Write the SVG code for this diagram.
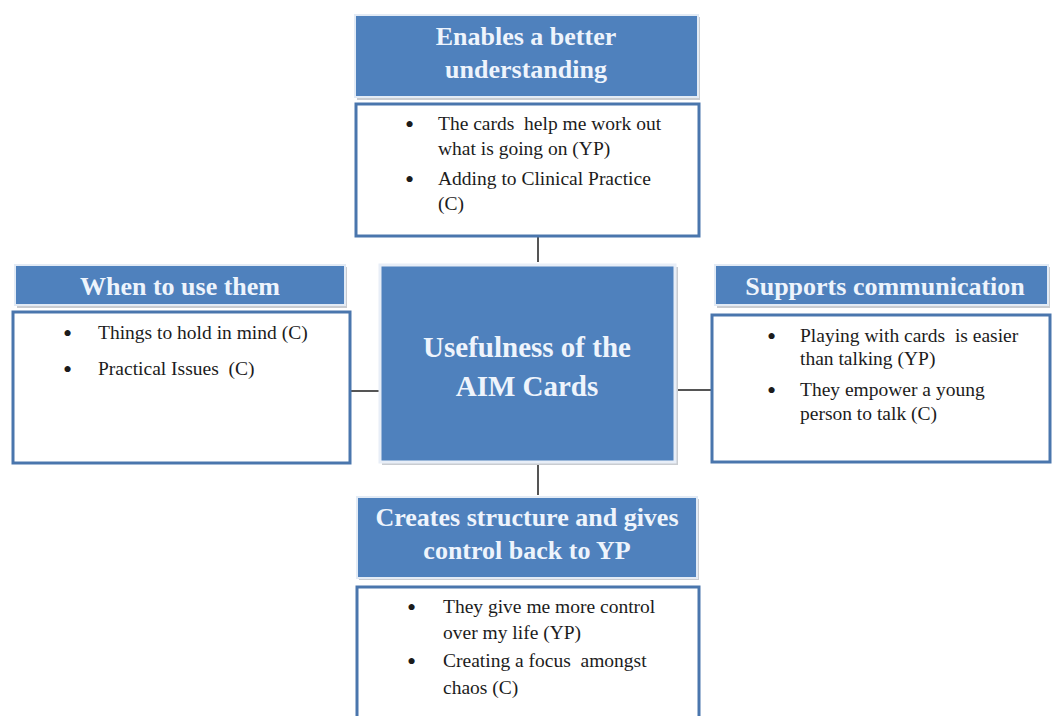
<svg xmlns="http://www.w3.org/2000/svg" width="1052" height="716" viewBox="0 0 1052 716">
<style>
.hdr{fill:#4f81bd;stroke:#e3ebf5;stroke-width:2}
.shd{fill:#c9ccd1}
.body{fill:#ffffff;stroke:#4a76ad;stroke-width:3}
.ht{font-family:"Liberation Serif",serif;font-weight:bold;font-size:26px;fill:#eef4fc;text-anchor:middle}
.ct{font-family:"Liberation Serif",serif;font-weight:bold;font-size:29px;fill:#eef4fc;text-anchor:middle}
.bt{font-family:"Liberation Serif",serif;font-size:19.5px;fill:#1c1c1c;white-space:pre}
.bu{font-family:"Liberation Serif",serif;font-size:26px;fill:#1c1c1c}
.conn{stroke:#555555;stroke-width:2;fill:none}
</style>
<rect width="1052" height="716" fill="#ffffff"/>
<g id="connectors">
<line class="conn" x1="538" y1="237" x2="538" y2="262"/>
<line class="conn" x1="538" y1="463" x2="538" y2="495"/>
<line class="conn" x1="350" y1="391" x2="379" y2="391"/>
<line class="conn" x1="676" y1="390" x2="712" y2="390"/>
</g>
<g id="center">
<rect class="shd" x="382" y="267" width="296" height="198"/>
<rect x="380" y="265" width="295" height="197" fill="#4f81bd" stroke="#e8eef7" stroke-width="3"/>
<text class="ct" x="527" y="357">Usefulness of the</text>
<text class="ct" x="527" y="396">AIM Cards</text>
</g>
<g id="top">
<rect class="body" x="356" y="104" width="343" height="132"/>
<rect class="shd" x="357" y="17" width="343" height="83"/>
<rect class="hdr" x="355" y="15" width="343" height="82"/>
<text class="ht" x="526" y="45">Enables a better</text>
<text class="ht" x="526" y="78">understanding</text>
<text class="bu" x="405" y="133">•</text>
<text class="bt" x="438" y="130">The cards  help me work out</text>
<text class="bt" x="438" y="155">what is going on (YP)</text>
<text class="bu" x="405" y="188">•</text>
<text class="bt" x="438" y="185">Adding to Clinical Practice</text>
<text class="bt" x="438" y="210">(C)</text>
</g>
<g id="left">
<rect class="body" x="13" y="312" width="337" height="151"/>
<rect class="shd" x="17" y="267" width="330" height="41"/>
<rect class="hdr" x="15" y="265" width="330" height="40"/>
<text class="ht" x="180" y="295">When to use them</text>
<text class="bu" x="63" y="342">•</text>
<text class="bt" x="98" y="339">Things to hold in mind (C)</text>
<text class="bu" x="63" y="378">•</text>
<text class="bt" x="98" y="375">Practical Issues  (C)</text>
</g>
<g id="right">
<rect class="body" x="712" y="315" width="338" height="147"/>
<rect class="shd" x="717" y="267" width="333" height="41"/>
<rect class="hdr" x="715" y="265" width="333" height="40"/>
<text class="ht" x="885" y="295">Supports communication</text>
<text class="bu" x="767" y="345">•</text>
<text class="bt" x="800" y="342">Playing with cards  is easier</text>
<text class="bt" x="800" y="365">than talking (YP)</text>
<text class="bu" x="767" y="399">•</text>
<text class="bt" x="800" y="396">They empower a young</text>
<text class="bt" x="800" y="420">person to talk (C)</text>
</g>
<g id="bottom">
<rect class="body" x="357" y="587" width="342" height="150"/>
<rect class="shd" x="359" y="499" width="340" height="81"/>
<rect class="hdr" x="357" y="497" width="340" height="81"/>
<text class="ht" x="527" y="526">Creates structure and gives</text>
<text class="ht" x="527" y="559">control back to YP</text>
<text class="bu" x="407" y="616">•</text>
<text class="bt" x="443" y="613">They give me more control</text>
<text class="bt" x="443" y="639">over my life (YP)</text>
<text class="bu" x="407" y="670">•</text>
<text class="bt" x="443" y="667">Creating a focus  amongst</text>
<text class="bt" x="443" y="694">chaos (C)</text>
</g>
</svg>
